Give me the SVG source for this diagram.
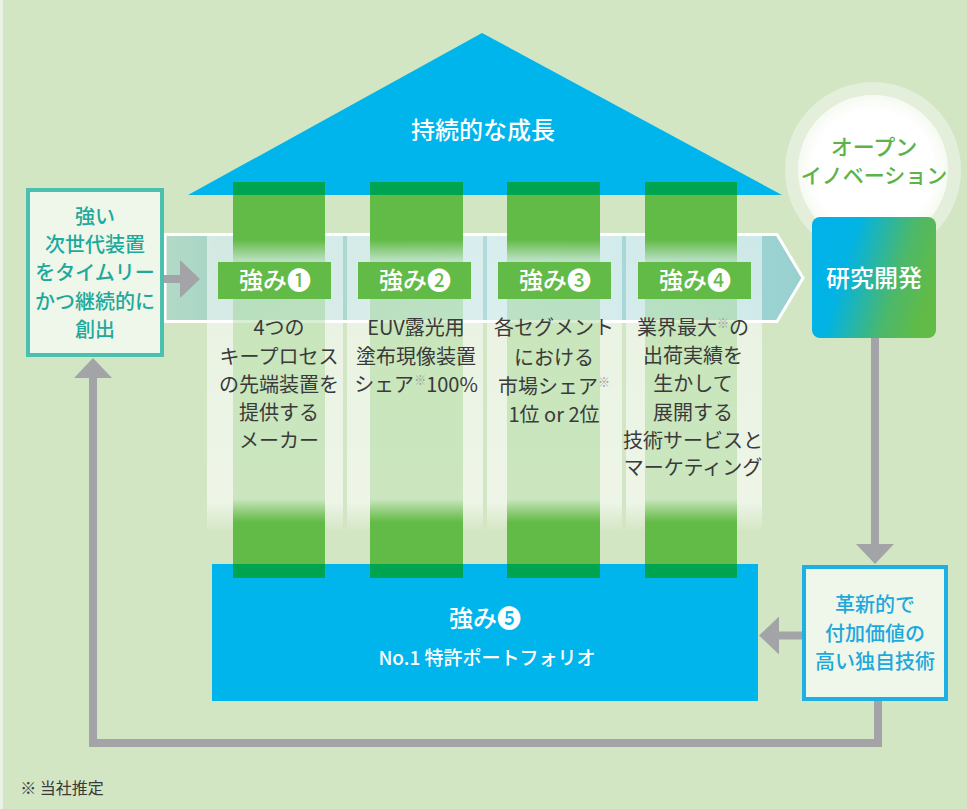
<svg xmlns="http://www.w3.org/2000/svg" width="967" height="809" viewBox="0 0 967 809">
<defs>
<style>
text{font-family:"Noto Sans CJK JP","Noto Sans",sans-serif;text-anchor:middle}
.b{font-weight:500}
.w{fill:#ffffff}
.col{fill:#3a3a3a;font-size:20px}
.lbl{font-size:24px;font-weight:500;fill:#ffffff}
.sup{font-size:12px;fill:#9a9a9a}
.conn{fill:none;stroke:#a3a4a8;stroke-width:8}
.pillar{fill:url(#pillarGrad)}
.dark{fill:#00a34f}
.column{fill:url(#colGrad)}
.tag{fill:#62bb46}
.lt{font-size:20px;font-weight:500;fill:#1ea99b}
.rt{font-size:20px;font-weight:500;fill:#1ea8dc}
</style>
<linearGradient id="pillarGrad" gradientUnits="userSpaceOnUse" x1="0" y1="182" x2="0" y2="578">
<stop offset="0" stop-color="#62bb46" stop-opacity="1"/>
<stop offset="0.146" stop-color="#62bb46" stop-opacity="1"/>
<stop offset="0.197" stop-color="#62bb46" stop-opacity="0.25"/>
<stop offset="0.80" stop-color="#62bb46" stop-opacity="0.25"/>
<stop offset="0.86" stop-color="#62bb46" stop-opacity="1"/>
<stop offset="1" stop-color="#62bb46" stop-opacity="1"/>
</linearGradient>
<linearGradient id="colGrad" gradientUnits="userSpaceOnUse" x1="0" y1="236" x2="0" y2="532">
<stop offset="0" stop-color="#ffffff" stop-opacity="0.5"/>
<stop offset="0.9" stop-color="#ffffff" stop-opacity="0.6"/>
<stop offset="1" stop-color="#ffffff" stop-opacity="0"/>
</linearGradient>
<linearGradient id="bandGrad" gradientUnits="userSpaceOnUse" x1="165" y1="0" x2="805" y2="0">
<stop offset="0" stop-color="#b4dac6"/>
<stop offset="0.08" stop-color="#a6d4c6"/>
<stop offset="0.5" stop-color="#b2dcdc"/>
<stop offset="1" stop-color="#98d0d0"/>
</linearGradient>
<linearGradient id="rdGrad" x1="0" y1="0.2" x2="1" y2="0.5">
<stop offset="0" stop-color="#00b2ea"/>
<stop offset="0.3" stop-color="#02b3e4"/>
<stop offset="0.72" stop-color="#4cb86a"/>
<stop offset="1" stop-color="#62bb46"/>
</linearGradient>
<radialGradient id="haloGrad" cx="0.5" cy="0.5" r="0.5">
<stop offset="0.8" stop-color="#ffffff"/>
<stop offset="1" stop-color="#f6faf2"/>
</radialGradient>
<marker id="ah" markerUnits="userSpaceOnUse" markerWidth="21" markerHeight="38" refX="0" refY="19" orient="auto" viewBox="0 0 21 38">
<path d="M0,0 L20,19 L0,38 z" fill="#a3a4a8"/>
</marker>
</defs>

<rect x="0" y="0" width="967" height="809" fill="#d3e6c3"/>
<rect x="0" y="0" width="3" height="809" fill="#eaf3e3"/>

<g id="roof">
<polygon points="188,195 482,33 782,195" fill="#00b5ec"/>
<text class="b w" x="483" y="139" font-size="24">持続的な成長</text>
</g>

<g id="base">
<rect x="212" y="564" width="546" height="137" fill="#00b5ec"/>
</g>

<g id="band">
<path d="M165,234.5 H777 L803,278 L777,321.5 H165 Z" fill="url(#bandGrad)" stroke="#ffffff" stroke-width="3"/>
</g>

<g id="columns">
<rect class="column" x="207" y="236" width="136" height="296"/>
<rect class="column" x="347" y="236" width="136" height="296"/>
<rect class="column" x="487" y="236" width="135" height="296"/>
<rect class="column" x="626" y="236" width="136" height="296"/>
</g>

<g id="pillar1">
<rect class="pillar" x="233" y="182" width="92" height="396"/>
<rect class="dark" x="233" y="182" width="92" height="13"/>
<rect class="dark" x="233" y="564" width="92" height="14"/>
<rect class="tag" x="218" y="262" width="113" height="37"/>
<text class="lbl" x="275" y="289">強み❶</text>
<text class="col" x="279" y="335">4つの</text>
<text class="col" x="279" y="364">キープロセス</text>
<text class="col" x="279" y="392">の先端装置を</text>
<text class="col" x="279" y="420">提供する</text>
<text class="col" x="279" y="448">メーカー</text>
</g>

<g id="pillar2">
<rect class="pillar" x="370" y="182" width="93" height="396"/>
<rect class="dark" x="370" y="182" width="93" height="13"/>
<rect class="dark" x="370" y="564" width="93" height="14"/>
<rect class="tag" x="358" y="262" width="113" height="37"/>
<text class="lbl" x="415" y="289">強み❷</text>
<text class="col" x="416" y="335">EUV露光用</text>
<text class="col" x="416" y="364">塗布現像装置</text>
<text class="col" x="416" y="392">シェア<tspan class="sup" dy="-7">※</tspan><tspan dy="7">100%</tspan></text>
</g>

<g id="pillar3">
<rect class="pillar" x="507" y="182" width="93" height="396"/>
<rect class="dark" x="507" y="182" width="93" height="13"/>
<rect class="dark" x="507" y="564" width="93" height="14"/>
<rect class="tag" x="498" y="262" width="113" height="37"/>
<text class="lbl" x="555" y="289">強み❸</text>
<text class="col" x="554" y="335">各セグメント</text>
<text class="col" x="554" y="365">における</text>
<text class="col" x="554" y="394">市場シェア<tspan class="sup" dy="-7">※</tspan></text>
<text class="col" x="554" y="422">1位 or 2位</text>
</g>

<g id="pillar4">
<rect class="pillar" x="645" y="182" width="92" height="396"/>
<rect class="dark" x="645" y="182" width="92" height="13"/>
<rect class="dark" x="645" y="564" width="92" height="14"/>
<rect class="tag" x="638" y="262" width="113" height="37"/>
<text class="lbl" x="695" y="289">強み❹</text>
<text class="col" x="693" y="335">業界最大<tspan class="sup" dy="-7">※</tspan><tspan dy="7">の</tspan></text>
<text class="col" x="693" y="363">出荷実績を</text>
<text class="col" x="693" y="391">生かして</text>
<text class="col" x="693" y="420">展開する</text>
<text class="col" x="693" y="448">技術サービスと</text>
<text class="col" x="693" y="475">マーケティング</text>
</g>

<g id="strength5">
<text class="lbl" x="485" y="627">強み❺</text>
<text class="b w" x="487" y="665" font-size="19">No.1 特許ポートフォリオ</text>
</g>

<g id="open-innovation">
<circle cx="873" cy="170" r="88" fill="#e3efda"/>
<circle cx="873" cy="170" r="75" fill="url(#haloGrad)"/>
<text class="b" x="874" y="155" font-size="22" fill="#5cb449">オープン</text>
<text class="b" x="874" y="183" font-size="21" fill="#5cb449">イノベーション</text>
</g>

<g id="rd">
<rect x="812" y="217" width="124" height="121" rx="8" fill="url(#rdGrad)"/>
<text class="b w" x="874" y="287" font-size="24">研究開発</text>
</g>

<g id="left-box">
<rect x="28" y="190" width="134" height="165" fill="#eff7ea" stroke="#4bbfb0" stroke-width="4"/>
<text class="lt" x="95" y="224">強い</text>
<text class="lt" x="95" y="252">次世代装置</text>
<text class="lt" x="95" y="280">をタイムリー</text>
<text class="lt" x="95" y="309">かつ継続的に</text>
<text class="lt" x="95" y="337">創出</text>
</g>

<g id="right-box">
<rect x="804" y="567" width="142" height="132" fill="#eff7ea" stroke="#1eb0e3" stroke-width="4"/>
<text class="rt" x="875" y="612" font-size="21">革新的で</text>
<text class="rt" x="875" y="641" font-size="21">付加価値の</text>
<text class="rt" x="875" y="669" font-size="21">高い独自技術</text>
</g>

<g id="connectors">
<path class="conn" d="M164,279 H180" marker-end="url(#ah)"/>
<path class="conn" d="M875,338 V544" marker-end="url(#ah)"/>
<path class="conn" d="M802,635.5 H779" marker-end="url(#ah)"/>
<path class="conn" d="M878,701 V743 H93 V378" marker-end="url(#ah)"/>
</g>

<text x="62" y="794" font-size="16" fill="#3a3a3a">※ 当社推定</text>
</svg>
